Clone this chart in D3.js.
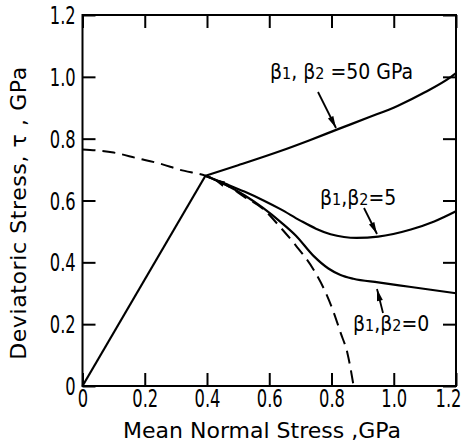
<!DOCTYPE html>
<html>
<head>
<meta charset="utf-8">
<script src="https://cdn.jsdelivr.net/npm/d3@7"></script>
<style>
  html, body { margin: 0; padding: 0; background: #fff; }
  svg { display: block; }
  text { font-family: "DejaVu Sans", sans-serif; fill: #000; }
</style>
</head>
<body>
<svg id="chart" width="464" height="443"></svg>
<script>
// ---- data ----
const xTicks = [0, 0.2, 0.4, 0.6, 0.8, 1.0, 1.2];
const xTickLabels = ["0", "0.2", "0.4", "0.6", "0.8", "1.0", "1.2"];
const yTicks = [0, 0.2, 0.4, 0.6, 0.8, 1.0, 1.2];
const yTickLabels = ["0", "0.2", "0.4", "0.6", "0.8", "1.0", "1.2"];
const xTitle = "Mean Normal Stress ,GPa";
const yTitle = "Deviatoric Stress, \u03c4 , GPa";

// loading path (straight line)
const loadingPath = [[0, 0], [0.395, 0.680]];
// dashed yield surface
const yieldSurface = [
  [0, 0.765], [0.1, 0.755], [0.175, 0.737], [0.25, 0.719], [0.314, 0.699],
  [0.395, 0.680], [0.46, 0.652], [0.52, 0.612], [0.581, 0.572], [0.636, 0.513],
  [0.685, 0.455], [0.742, 0.377], [0.78, 0.305], [0.807, 0.238], [0.83, 0.17],
  [0.851, 0.107], [0.871, 0]
];
// beta1, beta2 = 50 GPa
const beta50 = [
  [0.395, 0.680], [0.5, 0.714], [0.636, 0.760], [0.73, 0.795], [0.819, 0.830],
  [0.92, 0.869], [1.012, 0.906], [1.1, 0.950], [1.184, 1.000], [1.2, 1.012]
];
// beta1, beta2 = 5
const beta5 = [
  [0.395, 0.680], [0.46, 0.654], [0.52, 0.629], [0.58, 0.601], [0.636, 0.572],
  [0.7, 0.535], [0.75, 0.509], [0.797, 0.491], [0.84, 0.482], [0.88, 0.479],
  [0.95, 0.483], [1.055, 0.506], [1.13, 0.532], [1.2, 0.565]
];
// beta1, beta2 = 0
const beta0 = [
  [0.395, 0.680], [0.46, 0.651], [0.52, 0.617], [0.58, 0.576], [0.636, 0.531],
  [0.685, 0.487], [0.743, 0.420], [0.79, 0.380], [0.829, 0.359], [0.87, 0.347],
  [0.95, 0.335], [1.05, 0.321], [1.2, 0.300]
];

// ---- drawing ----
const svg = d3.select("#chart");
const X0 = 82.5, X1 = 456, Y0 = 386, Y1 = 15;
const x = d3.scaleLinear().domain([0, 1.2]).range([X0, X1]);
const y = d3.scaleLinear().domain([0, 1.2]).range([Y0, Y1]);

const tickFont = 24, squeeze = 0.68;

// frame
svg.append("rect")
  .attr("x", X0).attr("y", Y1).attr("width", X1 - X0).attr("height", Y0 - Y1)
  .attr("fill", "none").attr("stroke", "#000").attr("stroke-width", 2);

// axes (ticks inward)
const tickLen = 13;
const bottomAxis = d3.axisBottom(x).tickValues(xTicks).tickSize(-tickLen).tickPadding(6)
  .tickFormat((d, i) => xTickLabels[i]);
const gB = svg.append("g").attr("transform", `translate(0,${Y0})`).call(bottomAxis);
const leftAxis = d3.axisLeft(y).tickValues(yTicks).tickSize(-tickLen).tickPadding(10)
  .tickFormat((d, i) => yTickLabels[i]);
const gL = svg.append("g").attr("transform", `translate(${X0},0)`).call(leftAxis);
const topAxis = d3.axisTop(x).tickValues(xTicks).tickSize(-tickLen).tickFormat("");
const gT = svg.append("g").attr("transform", `translate(0,${Y1})`).call(topAxis);
const rightAxis = d3.axisRight(y).tickValues(yTicks).tickSize(-tickLen).tickFormat("");
const gR = svg.append("g").attr("transform", `translate(${X1},0)`).call(rightAxis);

[gB, gL, gT, gR].forEach(g => {
  g.select(".domain").remove();
  g.selectAll(".tick line").attr("stroke", "#000").attr("stroke-width", 2);
  g.selectAll("text").style("font-size", tickFont + "px").attr("fill", "#000")
    .style("font-family", '"DejaVu Sans", sans-serif')
    .attr("transform", `scale(${squeeze},1)`);
});
gB.selectAll(".tick text").attr("y", 21).attr("dy", 0);
gB.selectAll(".tick text").filter((d, i, n) => i === n.length - 1).attr("x", -8 / squeeze);
gL.selectAll(".tick text").attr("dy", "0.36em");

// titles
svg.append("text")
  .attr("x", 262).attr("y", 438)
  .attr("text-anchor", "middle").style("font-size", "22px")
  .text(xTitle);
svg.append("text")
  .attr("transform", `translate(26,213) rotate(-90)`)
  .attr("text-anchor", "middle").style("font-size", "22px")
  .style("letter-spacing", "0.6px")
  .text(yTitle);

// lines
const line = d3.line().x(d => x(d[0])).y(d => y(d[1])).curve(d3.curveMonotoneX);
const linear = d3.line().x(d => x(d[0])).y(d => y(d[1]));

svg.append("path").datum(yieldSurface).attr("d", line)
  .attr("fill", "none").attr("stroke", "#000").attr("stroke-width", 2)
  .attr("stroke-dasharray", "13,7");
svg.append("path").datum(loadingPath).attr("d", linear)
  .attr("fill", "none").attr("stroke", "#000").attr("stroke-width", 2.2);
[beta50, beta5, beta0].forEach(s => {
  svg.append("path").datum(s).attr("d", line)
    .attr("fill", "none").attr("stroke", "#000").attr("stroke-width", 2.2);
});

// arrows
function arrow(x1, y1, x2, y2) {
  svg.append("line").attr("x1", x1).attr("y1", y1).attr("x2", x2).attr("y2", y2)
    .attr("stroke", "#000").attr("stroke-width", 1.8);
  const ang = Math.atan2(y2 - y1, x2 - x1);
  const L = 12, W = 3;
  const bx = x2 - L * Math.cos(ang), by = y2 - L * Math.sin(ang);
  const px = -Math.sin(ang) * W, py = Math.cos(ang) * W;
  svg.append("path")
    .attr("d", `M${x2},${y2}L${bx + px},${by + py}L${bx - px},${by - py}Z`)
    .attr("fill", "#000");
}
arrow(318, 92, 336, 128);
arrow(364, 208, 377, 234);
arrow(383, 313, 377, 289);
// small arrowhead near the yield point
arrow(230, 187, 213, 179);

// labels
function betaLabel(tx, ty, value, spaced) {
  const t = svg.append("text").attr("x", tx).attr("y", ty).style("font-size", "21px")
    .style("font-family", '"DejaVu Sans Condensed", "DejaVu Sans", sans-serif');
  t.append("tspan").text("\u03b2");
  t.append("tspan").attr("font-size", "16px").text("1");
  t.append("tspan").text(spaced ? ", \u03b2" : ",\u03b2");
  t.append("tspan").attr("font-size", "16px").text("2");
  t.append("tspan").text(value);
}
betaLabel(270, 79, " =50 GPa", true);
betaLabel(320, 205, "=5", false);
betaLabel(353, 331, "=0", false);
</script>
</body>
</html>
